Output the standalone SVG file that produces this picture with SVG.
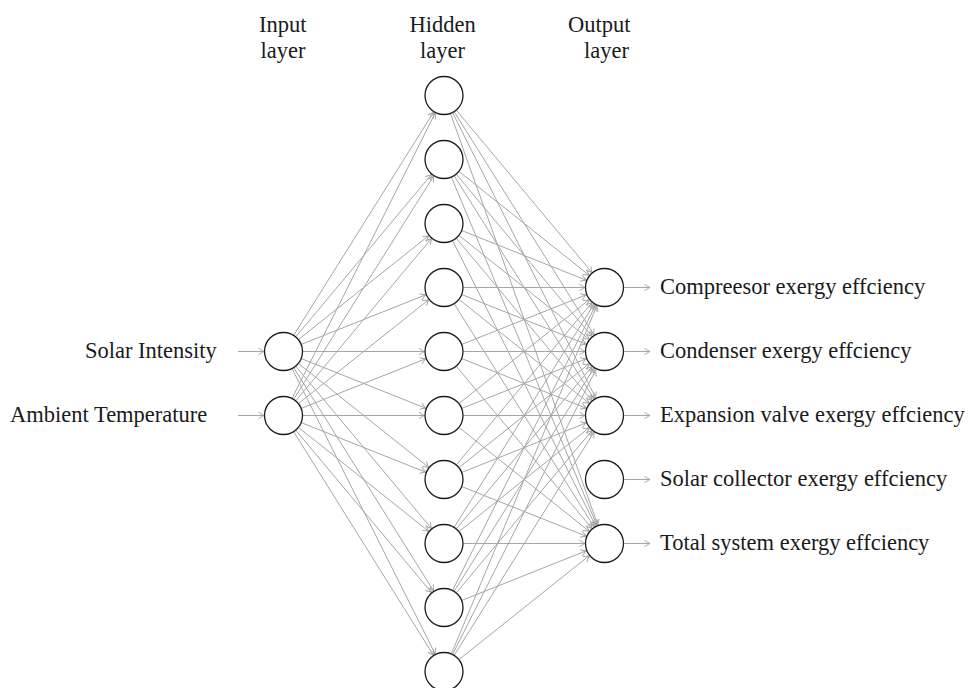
<svg xmlns="http://www.w3.org/2000/svg" width="972" height="688" viewBox="0 0 972 688">
<style>
text{font-family:"Liberation Serif","Times New Roman",serif;font-size:22.5px;fill:#1a1a1a}
.e{stroke:#a6a6a6;stroke-width:1;fill:none;marker-end:url(#ah)}
.n{fill:#fff;stroke:#1a1a1a;stroke-width:1.3}
</style>
<defs>
<marker id="ah" markerUnits="userSpaceOnUse" markerWidth="10" markerHeight="10" refX="0" refY="0" orient="auto" overflow="visible">
<path d="M -5.5 -3.3 Q -1.8 -0.6 0 0 Q -1.8 0.6 -5.5 3.3" fill="none" stroke="#a6a6a6" stroke-width="1"/>
</marker>
</defs>
<rect width="972" height="688" fill="#fff"/>
<g id="headers">
<text x="259" y="31.5">Input</text>
<text x="260.5" y="57.5">layer</text>
<text x="409.5" y="31.5">Hidden</text>
<text x="420" y="57.5">layer</text>
<text x="568" y="31.5">Output</text>
<text x="584" y="57.5">layer</text>
</g>
<g id="connectors">
<line class="e" x1="238" y1="351.5" x2="264" y2="351.5"/>
<line class="e" x1="238" y1="415.5" x2="264" y2="415.5"/>
<line class="e" x1="293.86" y1="334.98" x2="433.64" y2="112.02"/>
<line class="e" x1="296.01" y1="336.54" x2="431.49" y2="174.46"/>
<line class="e" x1="298.75" y1="339.34" x2="428.75" y2="235.66"/>
<line class="e" x1="301.61" y1="344.28" x2="425.89" y2="294.72"/>
<line class="e" x1="303" y1="351.5" x2="424.5" y2="351.5"/>
<line class="e" x1="301.61" y1="358.72" x2="425.89" y2="408.28"/>
<line class="e" x1="298.75" y1="363.66" x2="428.75" y2="467.34"/>
<line class="e" x1="296.01" y1="366.46" x2="431.49" y2="528.54"/>
<line class="e" x1="293.86" y1="368.02" x2="433.64" y2="590.98"/>
<line class="e" x1="292.24" y1="368.93" x2="435.26" y2="654.07"/>
<line class="e" x1="292.24" y1="398.07" x2="435.26" y2="112.93"/>
<line class="e" x1="293.86" y1="398.98" x2="433.64" y2="176.02"/>
<line class="e" x1="296.01" y1="400.54" x2="431.49" y2="238.46"/>
<line class="e" x1="298.75" y1="403.34" x2="428.75" y2="299.66"/>
<line class="e" x1="301.61" y1="408.28" x2="425.89" y2="358.72"/>
<line class="e" x1="303" y1="415.5" x2="424.5" y2="415.5"/>
<line class="e" x1="301.61" y1="422.72" x2="425.89" y2="472.28"/>
<line class="e" x1="298.75" y1="427.66" x2="428.75" y2="531.34"/>
<line class="e" x1="296.01" y1="430.46" x2="431.49" y2="592.54"/>
<line class="e" x1="293.86" y1="432.02" x2="433.64" y2="655.48"/>
<line class="e" x1="456.51" y1="110.46" x2="591.99" y2="272.54"/>
<line class="e" x1="454.36" y1="112.02" x2="594.14" y2="334.98"/>
<line class="e" x1="452.74" y1="112.93" x2="595.76" y2="398.07"/>
<line class="e" x1="450.58" y1="113.86" x2="597.92" y2="525.14"/>
<line class="e" x1="459.25" y1="171.66" x2="589.25" y2="275.34"/>
<line class="e" x1="456.51" y1="174.46" x2="591.99" y2="336.54"/>
<line class="e" x1="454.36" y1="176.02" x2="594.14" y2="398.98"/>
<line class="e" x1="451.52" y1="177.49" x2="596.98" y2="525.51"/>
<line class="e" x1="462.11" y1="230.72" x2="586.39" y2="280.28"/>
<line class="e" x1="459.25" y1="235.66" x2="589.25" y2="339.34"/>
<line class="e" x1="456.51" y1="238.46" x2="591.99" y2="400.54"/>
<line class="e" x1="452.74" y1="240.93" x2="595.76" y2="526.07"/>
<line class="e" x1="463.5" y1="287.5" x2="585" y2="287.5"/>
<line class="e" x1="462.11" y1="294.72" x2="586.39" y2="344.28"/>
<line class="e" x1="459.25" y1="299.66" x2="589.25" y2="403.34"/>
<line class="e" x1="454.36" y1="304.02" x2="594.14" y2="526.98"/>
<line class="e" x1="462.11" y1="344.28" x2="586.39" y2="294.72"/>
<line class="e" x1="463.5" y1="351.5" x2="585" y2="351.5"/>
<line class="e" x1="462.11" y1="358.72" x2="586.39" y2="408.28"/>
<line class="e" x1="456.51" y1="366.46" x2="591.99" y2="528.54"/>
<line class="e" x1="459.25" y1="403.34" x2="589.25" y2="299.66"/>
<line class="e" x1="462.11" y1="408.28" x2="586.39" y2="358.72"/>
<line class="e" x1="463.5" y1="415.5" x2="585" y2="415.5"/>
<line class="e" x1="459.25" y1="427.66" x2="589.25" y2="531.34"/>
<line class="e" x1="456.51" y1="464.54" x2="591.99" y2="302.46"/>
<line class="e" x1="459.25" y1="467.34" x2="589.25" y2="363.66"/>
<line class="e" x1="462.11" y1="472.28" x2="586.39" y2="422.72"/>
<line class="e" x1="462.11" y1="486.72" x2="586.39" y2="536.28"/>
<line class="e" x1="454.36" y1="526.98" x2="594.14" y2="304.02"/>
<line class="e" x1="456.51" y1="528.54" x2="591.99" y2="366.46"/>
<line class="e" x1="459.25" y1="531.34" x2="589.25" y2="427.66"/>
<line class="e" x1="463.5" y1="543.5" x2="585" y2="543.5"/>
<line class="e" x1="452.74" y1="590.07" x2="595.76" y2="304.93"/>
<line class="e" x1="454.36" y1="590.98" x2="594.14" y2="368.02"/>
<line class="e" x1="456.51" y1="592.54" x2="591.99" y2="430.46"/>
<line class="e" x1="462.11" y1="600.28" x2="586.39" y2="550.72"/>
<line class="e" x1="451.52" y1="653.51" x2="596.98" y2="305.49"/>
<line class="e" x1="452.74" y1="654.07" x2="595.76" y2="369.93"/>
<line class="e" x1="454.36" y1="654.98" x2="594.14" y2="432.02"/>
<line class="e" x1="459.25" y1="659.34" x2="589.25" y2="555.66"/>
<line class="e" x1="624" y1="287.5" x2="650" y2="287.5"/>
<line class="e" x1="624" y1="351.5" x2="650" y2="351.5"/>
<line class="e" x1="624" y1="415.5" x2="650" y2="415.5"/>
<line class="e" x1="624" y1="479.5" x2="650" y2="479.5"/>
<line class="e" x1="624" y1="543.5" x2="650" y2="543.5"/>
</g>
<g id="in1"><circle class="n" cx="283.5" cy="351.5" r="19"/><text x="85" y="357.5">Solar Intensity</text></g>
<g id="in2"><circle class="n" cx="283.5" cy="415.5" r="19"/><text x="10" y="421.5">Ambient Temperature</text></g>
<g id="h1"><circle class="n" cx="444" cy="95.5" r="19"/></g>
<g id="h2"><circle class="n" cx="444" cy="159.5" r="19"/></g>
<g id="h3"><circle class="n" cx="444" cy="223.5" r="19"/></g>
<g id="h4"><circle class="n" cx="444" cy="287.5" r="19"/></g>
<g id="h5"><circle class="n" cx="444" cy="351.5" r="19"/></g>
<g id="h6"><circle class="n" cx="444" cy="415.5" r="19"/></g>
<g id="h7"><circle class="n" cx="444" cy="479.5" r="19"/></g>
<g id="h8"><circle class="n" cx="444" cy="543.5" r="19"/></g>
<g id="h9"><circle class="n" cx="444" cy="607.5" r="19"/></g>
<g id="h10"><circle class="n" cx="444" cy="671.5" r="19"/></g>
<g id="out1"><circle class="n" cx="604.5" cy="287.5" r="19"/><text x="660" y="293.5">Compreesor exergy effciency</text></g>
<g id="out2"><circle class="n" cx="604.5" cy="351.5" r="19"/><text x="660" y="357.5">Condenser exergy effciency</text></g>
<g id="out3"><circle class="n" cx="604.5" cy="415.5" r="19"/><text x="660" y="421.5">Expansion valve exergy effciency</text></g>
<g id="out4"><circle class="n" cx="604.5" cy="479.5" r="19"/><text x="660" y="485.5">Solar collector exergy effciency</text></g>
<g id="out5"><circle class="n" cx="604.5" cy="543.5" r="19"/><text x="660" y="549.5">Total system exergy effciency</text></g>
</svg>
